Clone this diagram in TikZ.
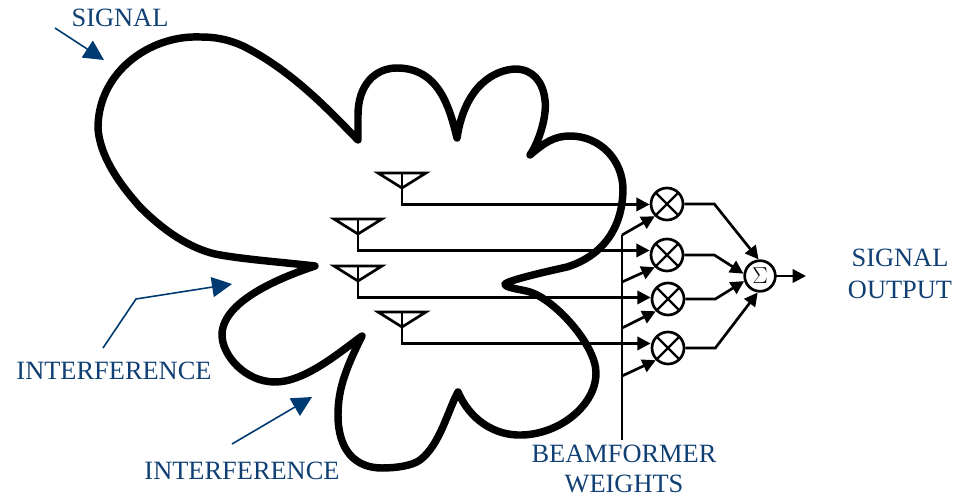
\documentclass[tikz,border=0pt]{standalone}
\usepackage{fontspec}
\setmainfont{Liberation Serif}
\usetikzlibrary{arrows.meta}
\definecolor{labelblue}{HTML}{0F3F73}
\definecolor{arrowblue}{HTML}{003A70}
\tikzset{
	lobe/.style={line width=5.6pt, line join=round, line cap=round},
	wire/.style={line width=2pt},
	feed/.style={wire, -{Triangle[length=10pt, width=10pt]}},
	pointer/.style={arrowblue, line width=1.2pt, -{Triangle[length=15pt, width=15pt]}},
	mixer/.style={draw, circle, line width=2pt, minimum size=24pt, inner sep=0pt,
		path picture={
			\draw[line width=1.8pt] (path picture bounding box.north west) -- (path picture bounding box.south east);
			\draw[line width=1.8pt] (path picture bounding box.north east) -- (path picture bounding box.south west);
		}},
	summer/.style={draw, circle, line width=2pt, minimum size=23pt, inner sep=0pt, font=\fontsize{16pt}{16pt}\selectfont},
	caption/.style={labelblue, align=center, inner sep=0pt, font=\fontsize{19.8pt}{24pt}\selectfont},
}
\begin{document}
\begin{tikzpicture}[x=0.75pt, y=-0.75pt]
	\useasboundingbox (0,0) rectangle (956,498);

	% radiation pattern
	\draw[lobe] (358,140) .. controls (335,117) and (295,72) .. (243,46)
		.. controls (225,38) and (212,37) .. (200,37)
		.. controls (150,35) and (98,72) .. (98,128)
		.. controls (100,160) and (125,190) .. (140,207)
		.. controls (165,232) and (190,248) .. (215,254)
		.. controls (240,259) and (280,262) .. (315,266)
		.. controls (285,276) and (222,300) .. (222,335)
		.. controls (222,355) and (245,382) .. (275,382)
		.. controls (305,382) and (340,352) .. (362,336)
		.. controls (345,370) and (338,390) .. (338,415)
		.. controls (338,450) and (355,468) .. (382,468)
		.. controls (395,468) and (412,466) .. (420,460)
		.. controls (440,445) and (448,410) .. (458,392)
		.. controls (470,420) and (495,436) .. (522,435)
		.. controls (560,434) and (596,405) .. (596,373)
		.. controls (596,345) and (555,300) .. (530,292)
		.. controls (520,289) and (505,288) .. (505,284)
		.. controls (510,280) and (540,273) .. (567,267)
		.. controls (590,260) and (622,240) .. (623,190)
		.. controls (623,160) and (600,136) .. (570,136)
		.. controls (555,136) and (545,142) .. (530,155)
		.. controls (540,140) and (547,115) .. (545,100)
		.. controls (543,82) and (533,69) .. (515,69)
		.. controls (495,70) and (465,85) .. (457,138)
		.. controls (450,110) and (440,68) .. (397,68)
		.. controls (375,68) and (358,85) .. (358,115)
		.. controls (358,125) and (358,132) .. (358,140);

	\node[mixer] (m1) at (667,204) {};
	\node[mixer] (m2) at (667,255) {};
	\node[mixer] (m3) at (668,299) {};
	\node[mixer] (m4) at (668,348) {};
	\node[summer] (sum) at (760,276) {$\Sigma$};
	\coordinate (out) at (806,276);

	% antennas, each one feeding its mixer
	\def\antennas {a1/402/173/m1, a2/358/219/m2, a3/358/266/m3, a4/402/312/m4}
	\foreach \a\x\y\m in \antennas
	{	\coordinate (\a) at (\x,\y);
		\draw[wire, line join=miter] (\a) ++(-24,0) -- ++(48,0) -- ++(-24,15) -- cycle;
		\draw[feed] (\a) |- ([yshift=-23.6pt]\a -| \m.west);
	}

	% beamformer weights
	\coordinate (wtop) at (622,235);
	\coordinate (wbot) at (622,440);
	\draw[wire] (wbot) -- (wtop);
	\coordinate (w2) at (622,282);
	\coordinate (w3) at (622,328);
	\coordinate (w4) at (622,376);
	\draw[feed] (wtop) -- (m1.south west);
	\foreach \w\m in {w2/m2, w3/m3, w4/m4}
	{	\draw[feed] (\w) -- (\m.south west);
	}

	% summation
	\def\outputs {m1/95, m2/172, m3/198, m4/262}
	\foreach \m\ang in \outputs
	{	\draw[feed] (\m.east) -- ++(30,0) -- (sum.\ang);
	}
	\draw[feed] (sum) ++(15,0) -- (out);

	% labels
	\node[caption] (sig) at (120,18) {SIGNAL};
	\node[caption] (int1) at (114,371) {INTERFERENCE};
	\node[caption] (int2) at (242,471) {INTERFERENCE};
	\node[caption] (bf) at (624,469) {BEAMFORMER\\[-1pt]WEIGHTS};
	\node[caption] (sigout) at (900,274) {SIGNAL\\OUTPUT};

	\coordinate (sigfrom) at (55,28);
	\coordinate (sigtip) at (104,60);
	\coordinate (int1from) at (103,348);
	\coordinate (int1bend) at (136,299);
	\coordinate (int1tip) at (232,284);
	\coordinate (int2from) at (232,444);
	\coordinate (int2tip) at (312,397);
	\draw[pointer] (sigfrom) -- (sigtip);
	\draw[pointer] (int1from) -- (int1bend) -- (int1tip);
	\draw[pointer] (int2from) -- (int2tip);
\end{tikzpicture}
\end{document}
